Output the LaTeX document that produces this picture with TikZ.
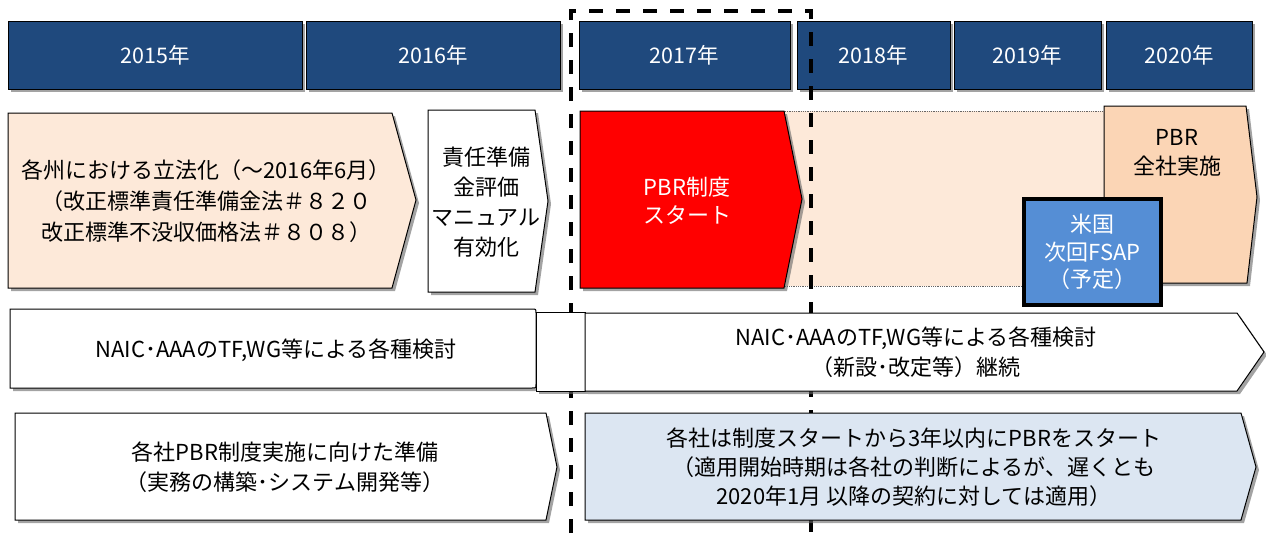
\documentclass[tikz,border=0pt]{standalone}
\usepackage{fontspec}
\setmainfont{Noto Sans CJK JP}
\usetikzlibrary{shadows}
\definecolor{yearblue}{RGB}{31,73,125}
\definecolor{peachlight}{RGB}{253,233,217}
\definecolor{peachdark}{RGB}{251,213,181}
\definecolor{fsapblue}{RGB}{85,142,213}
\definecolor{paleblue}{RGB}{220,230,242}
\begin{document}
\begin{tikzpicture}[x=1pt,y=-1pt,
  shp/.style={draw=black,line width=1pt,drop shadow={shadow xshift=3pt,shadow yshift=-3pt,fill=black!60,opacity=0.6}},
  yearbox/.style={shp,fill=yearblue,text=white,anchor=north west,inner sep=0pt,outer sep=0pt,font=\fontsize{21.5}{24}\selectfont},
  txt/.style={align=center,inner sep=0pt,font=\fontsize{22}{30}\selectfont},
  divider/.style={line width=3.3pt,dash pattern=on 14pt off 13pt}
]
\useasboundingbox (0,0) rectangle (1266,533);

% year header
\node[yearbox,minimum width=294pt,minimum height=68pt] (y15) at (8,21) {2015年};
\node[yearbox,minimum width=254pt,minimum height=68pt] (y16) at (306,21) {2016年};
\node[yearbox,minimum width=211pt,minimum height=68pt] (y17) at (579,21) {2017年};
\node[yearbox,minimum width=153pt,minimum height=68pt] (y18) at (797,21) {2018年};
\node[yearbox,minimum width=147pt,minimum height=68pt] (y19) at (954,21) {2019年};
\node[yearbox,minimum width=146pt,minimum height=68pt] (y20) at (1106,21) {2020年};

% light band behind 2017-2020
\path[draw=black!60,densely dotted,line width=0.8pt,fill=peachlight] (784,111) rectangle (1104,286);

% dashed divider
\draw[divider] (571,533) -- (571,11) -- (811,11) -- (811,533);

% row 2
\path[shp,fill=peachlight] (8,113) -- (392,113) -- (416,200) -- (392,288) -- (8,288) -- cycle;
\node[txt,font=\fontsize{22}{31}\selectfont] (legis) at (206,201) {各州における立法化（～2016年6月）\\（改正標準責任準備金法＃８２０\\改正標準不没収価格法＃８０８）};

\path[shp,fill=white] (428,110) -- (535,110) -- (548,201) -- (535,292) -- (428,292) -- cycle;
\node[txt] (manual) at (486,202) {責任準備\\金評価\\マニュアル\\有効化};

\path[shp,fill=red] (580,111) -- (784,111) -- (802,199) -- (784,288) -- (580,288) -- cycle;
\node[txt,text=white,font=\fontsize{22}{28}\selectfont] (start) at (687,201) {PBR制度\\スタート};

\path[shp,fill=peachdark] (1104,106) -- (1246,106) -- (1257,197) -- (1247,283) -- (1104,283) -- cycle;
\node[txt,font=\fontsize{22}{29}\selectfont] (allco) at (1177,153) {PBR\\全社実施};

\node[draw=black,line width=4pt,fill=fsapblue,minimum width=137pt,minimum height=106pt,inner sep=0pt] (fsapbox) at (1092.5,252) {};
\node[txt,text=white,font=\fontsize{22}{27.5}\selectfont] (fsap) at (fsapbox.center) {米国\\次回FSAP\\（予定）};

% row 3
\path[shp,fill=white] (10,309) -- (532,309) .. controls (536,309) .. (536,313) -- (536,384) .. controls (536,388) .. (532,388) -- (10,388) -- cycle;
\node[txt] (naic1) at (276,350) {NAIC･AAAのTF,WG等による各種検討};
\path[shp,fill=white] (536,312) rectangle (585,391);
\path[shp,fill=white] (585,313) -- (1237,313) -- (1264,352) -- (1237,391) -- (585,391) -- cycle;
\node[txt] (naic2) at (916,352) {NAIC･AAAのTF,WG等による各種検討\\（新設･改定等）継続};

% row 4
\path[shp,fill=white] (15,413) -- (546,413) -- (557,467) -- (546,520) -- (15,520) -- cycle;
\node[txt] (prep) at (285,467) {各社PBR制度実施に向けた準備\\（実務の構築･システム開発等）};
\path[shp,fill=paleblue] (585,413) -- (1241,413) -- (1256,467) -- (1241,520) -- (585,520) -- cycle;
\node[txt,font=\fontsize{22}{29}\selectfont] (each) at (914,467) {各社は制度スタートから3年以内にPBRをスタート\\（適用開始時期は各社の判断によるが、遅くとも\\2020年1月 以降の契約に対しては適用）};
\end{tikzpicture}
\end{document}
